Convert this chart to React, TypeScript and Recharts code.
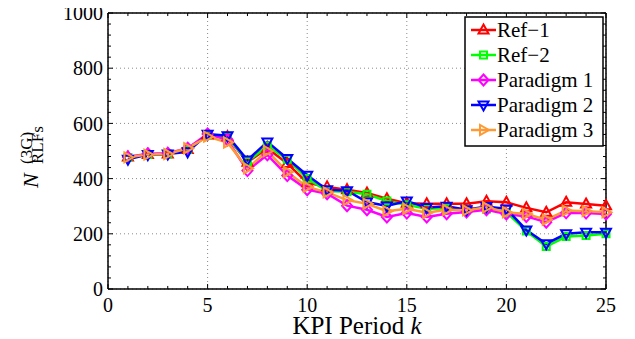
import React from "react";
import { LineChart, Line, XAxis, YAxis, CartesianGrid, ReferenceLine, Legend } from "recharts";

const kValues = [1, 2, 3, 4, 5, 6, 7, 8, 9, 10, 11, 12, 13, 14, 15, 16, 17, 18, 19, 20, 21, 22, 23, 24, 25];
const ref1 = [478, 487, 489, 505, 558, 552, 459, 510, 455, 385, 370, 360, 348, 327, 311, 309, 309, 309, 318, 314, 294, 278, 314, 308, 302];
const ref2 = [476, 487, 489, 505, 558, 553, 462, 518, 470, 400, 355, 352, 343, 319, 305, 291, 293, 287, 290, 278, 210, 154, 190, 194, 200];
const paradigm1 = [478, 490, 492, 510, 562, 540, 429, 486, 411, 360, 345, 302, 287, 261, 275, 261, 273, 279, 287, 272, 263, 242, 276, 275, 272];
const paradigm2 = [470, 487, 489, 497, 561, 555, 467, 533, 473, 412, 360, 356, 315, 301, 319, 295, 300, 287, 299, 290, 214, 164, 200, 206, 206];
const paradigm3 = [477, 487, 489, 510, 552, 531, 437, 500, 424, 370, 350, 322, 309, 282, 291, 276, 287, 285, 296, 278, 272, 251, 284, 282, 278];

const xTicks = [0, 5, 10, 15, 20, 25];
const yTicks = [0, 200, 400, 600, 800, 1000];
const xMinor = Array.from({ length: 26 }, (_, i) => i);
const yMinor = Array.from({ length: 26 }, (_, i) => i * 40);

const series = [
  { key: "ref1", name: "Ref\u22121", color: "#FF0000", shape: "up" },
  { key: "ref2", name: "Ref\u22122", color: "#00FF00", shape: "square" },
  { key: "p1", name: "Paradigm 1", color: "#FF00FF", shape: "diamond" },
  { key: "p2", name: "Paradigm 2", color: "#0000FF", shape: "down" },
  { key: "p3", name: "Paradigm 3", color: "#FF9933", shape: "right" },
];

const data = kValues.map((k, i) => ({
  k,
  ref1: ref1[i],
  ref2: ref2[i],
  p1: paradigm1[i],
  p2: paradigm2[i],
  p3: paradigm3[i],
}));

const FONT = "Liberation Serif";

function markerPath(shape: string, cx: number, cy: number): string {
  switch (shape) {
    case "up":
      return `M${cx},${cy - 5.5}L${cx + 5},${cy + 3.5}L${cx - 5},${cy + 3.5}Z`;
    case "down":
      return `M${cx},${cy + 5.5}L${cx + 5},${cy - 3.5}L${cx - 5},${cy - 3.5}Z`;
    case "right":
      return `M${cx + 5.5},${cy}L${cx - 3.5},${cy - 5}L${cx - 3.5},${cy + 5}Z`;
    case "diamond":
      return `M${cx},${cy - 5.5}L${cx + 5},${cy}L${cx},${cy + 5.5}L${cx - 5},${cy}Z`;
    default:
      return `M${cx - 3.5},${cy - 3.5}L${cx + 3.5},${cy - 3.5}L${cx + 3.5},${cy + 3.5}L${cx - 3.5},${cy + 3.5}Z`;
  }
}

const makeDot = (shape: string, color: string) => (props: any) => {
  const { cx, cy, index } = props;
  if (cx == null || cy == null) return <g key={`d-${shape}-${index}`} />;
  return (
    <path
      key={`d-${shape}-${index}`}
      d={markerPath(shape, cx, cy)}
      fill="none"
      stroke={color}
      strokeWidth={2}
    />
  );
};

const LegendBox = () => (
  <svg width={140} height={131} style={{ display: "block" }}>
    <rect x={1} y={1} width={138} height={129} fill="#fff" stroke="#000" strokeWidth={1.5} />
    {series.map((s, i) => {
      const y = 21 + i * 25;
      return (
        <g key={s.key}>
          <line x1={7} x2={32} y1={y - 7} y2={y - 7} stroke={s.color} strokeWidth={2.5} />
          <path d={markerPath(s.shape, 19.5, y - 7)} fill="none" stroke={s.color} strokeWidth={2} />
          <text x={33} y={y} fontFamily={FONT} fontSize={21} fill="#000">
            {s.name}
          </text>
        </g>
      );
    })}
  </svg>
);

const YLabel = (props: any) => {
  const vb = props.viewBox || { y: 5 };
  const ty = vb.y + 175;
  return (
    <g transform={`translate(30, ${ty}) rotate(-90)`} fill="#000">
      <text x={0} y={0} fontFamily={FONT} fontSize={22} fontStyle="italic">N</text>
      <text x={24} y={-6} fontFamily={FONT} fontSize={17}>(3G)</text>
      <text x={24} y={5} fontFamily={FONT} fontSize={17}>RLFs</text>
    </g>
  );
};

const XLabel = (props: any) => {
  const vb = props.viewBox || { x: 100, y: 281, width: 498 };
  const cx = vb.x + vb.width / 2;
  return (
    <text x={cx} y={vb.y + 45} textAnchor="middle" fontFamily={FONT} fontSize={25} fill="#000">
      KPI Period <tspan fontStyle="italic">k</tspan>
    </text>
  );
};

export default function App() {
  return (
    <div style={{ position: "relative", fontFamily: FONT }}>
      <LineChart
        width={620}
        height={331}
        data={data}
        margin={{ top: 5, right: 22, bottom: 0, left: 0 }}
      >
        <CartesianGrid
          stroke="#8a8a8a"
          strokeDasharray="1 3"
          strokeWidth={1}
          horizontalValues={yTicks}
          verticalValues={xTicks}
        />
        <XAxis
          dataKey="k"
          type="number"
          domain={[0, 25]}
          ticks={xTicks}
          tickLine={false}
          tickSize={0}
          tickMargin={9}
          height={50}
          axisLine={{ stroke: "#000", strokeWidth: 1.5 }}
          tick={{ fontSize: 20, fill: "#000", fontFamily: FONT }}
          label={<XLabel />}
          interval={0}
        />
        <YAxis
          type="number"
          domain={[0, 1000]}
          ticks={yTicks}
          tickLine={false}
          tickSize={0}
          tickMargin={5}
          width={100}
          axisLine={{ stroke: "#000", strokeWidth: 1.5 }}
          tick={{ fontSize: 20, fill: "#000", fontFamily: FONT }}
          label={<YLabel />}
          interval={0}
        />
        <ReferenceLine y={1000} stroke="#000" strokeWidth={1.5} ifOverflow="extendDomain" />
        <ReferenceLine x={25} stroke="#000" strokeWidth={1.5} ifOverflow="extendDomain" />
        {xMinor.map((v) => {
          const major = v % 5 === 0;
          const len = major ? 18 : 11;
          return (
            <React.Fragment key={`xt-${v}`}>
              <ReferenceLine segment={[{ x: v, y: 0 }, { x: v, y: len }]} stroke="#000" strokeWidth={1} ifOverflow="visible" />
              <ReferenceLine segment={[{ x: v, y: 1000 }, { x: v, y: 1000 - len }]} stroke="#000" strokeWidth={1} ifOverflow="visible" />
            </React.Fragment>
          );
        })}
        {yMinor.map((v) => {
          const major = v % 200 === 0;
          const len = major ? 0.25 : 0.15;
          return (
            <React.Fragment key={`yt-${v}`}>
              <ReferenceLine segment={[{ x: 0, y: v }, { x: len, y: v }]} stroke="#000" strokeWidth={1} ifOverflow="visible" />
              <ReferenceLine segment={[{ x: 25, y: v }, { x: 25 - len, y: v }]} stroke="#000" strokeWidth={1} ifOverflow="visible" />
            </React.Fragment>
          );
        })}
        {series.map((s) => (
          <Line
            key={s.key}
            dataKey={s.key}
            name={s.name}
            stroke={s.color}
            strokeWidth={2.5}
            dot={makeDot(s.shape, s.color)}
            activeDot={false}
            isAnimationActive={false}
            type="linear"
          />
        ))}
        <Legend
          layout="horizontal"
          verticalAlign="middle"
          align="center"
          content={() => <LegendBox />}
          wrapperStyle={{ position: "absolute", left: 456, top: 8, width: 140, height: 131 }}
        />
      </LineChart>
    </div>
  );
}
